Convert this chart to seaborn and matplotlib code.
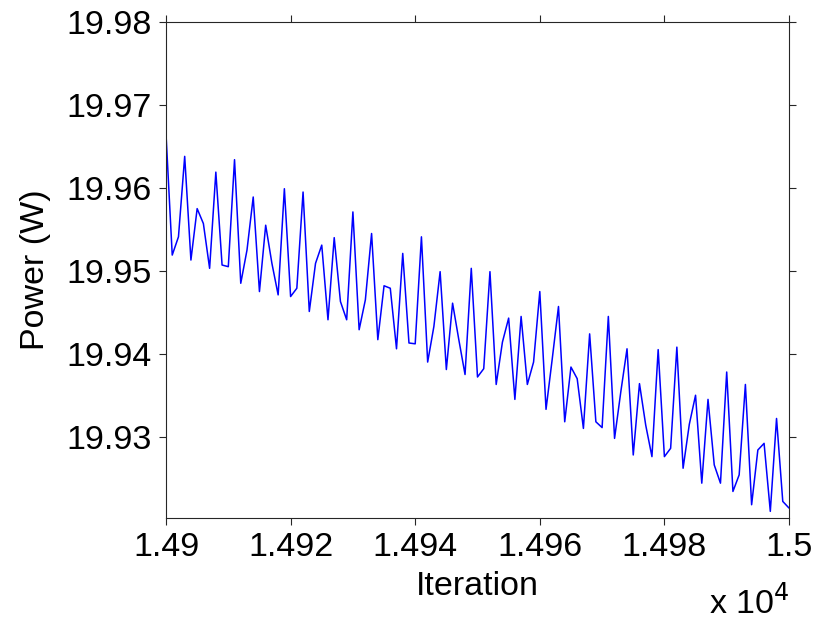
import numpy as np
import pandas as pd
import matplotlib
matplotlib.use('Agg')
import matplotlib.pyplot as plt
import seaborn as sns
from matplotlib.ticker import FuncFormatter, MultipleLocator

# power readings, one per iteration from 14900 to 15000
iterations = np.arange(14900, 15001)
power = [
    19.9665, 19.9519, 19.9541, 19.9638, 19.9513, 19.9575, 19.9557, 19.9503, 19.9619, 19.9507,
    19.9505, 19.9634, 19.9485, 19.9525, 19.9589, 19.9475, 19.9555, 19.9509, 19.9471, 19.9599,
    19.9469, 19.9479, 19.9595, 19.9451, 19.9509, 19.9531, 19.9441, 19.9540, 19.9463, 19.9441,
    19.9571, 19.9429, 19.9465, 19.9545, 19.9417, 19.9482, 19.9479, 19.9406, 19.9521, 19.9413,
    19.9412, 19.9541, 19.9390, 19.9433, 19.9499, 19.9381, 19.9461, 19.9417, 19.9375, 19.9503,
    19.9372, 19.9382, 19.9499, 19.9363, 19.9414, 19.9443, 19.9345, 19.9445, 19.9363, 19.9390,
    19.9475, 19.9333, 19.9394, 19.9457, 19.9318, 19.9384, 19.9370, 19.9310, 19.9424, 19.9318,
    19.9311, 19.9445, 19.9298, 19.9354, 19.9406, 19.9278, 19.9364, 19.9314, 19.9276, 19.9405,
    19.9276, 19.9286, 19.9408, 19.9262, 19.9315, 19.9350, 19.9244, 19.9345, 19.9266, 19.9244,
    19.9378, 19.9234, 19.9254, 19.9363, 19.9218, 19.9284, 19.9292, 19.9210, 19.9322, 19.9222,
    19.9214,
]
df = pd.DataFrame({'Iteration': iterations, 'Power': power})

sns.set_style('white')
plt.rcParams['font.family'] = ['Liberation Sans', 'DejaVu Sans']
fs = 24.5

fig = plt.figure(figsize=(8.25, 6.2), dpi=100)
ax = fig.add_axes([166 / 825, 1 - 518 / 620, (789 - 166) / 825, (518 - 22) / 620])

sns.lineplot(data=df, x='Iteration', y='Power', color='#0000ff', linewidth=1.1, ax=ax)

ax.set_xlim(14900, 15000)
ax.set_ylim(19.9202, 19.98)
ax.xaxis.set_major_locator(MultipleLocator(20))
ax.yaxis.set_major_locator(MultipleLocator(0.01))
ax.xaxis.set_major_formatter(FuncFormatter(lambda v, p: '%g' % round(v / 1e4, 4)))
ax.yaxis.set_major_formatter(FuncFormatter(lambda v, p: '%.2f' % v))

ax.tick_params(axis='both', direction='out', length=5, width=0.8, color='#262626',
               labelsize=fs, labelcolor='black', pad=5,
               top=True, right=True, bottom=True, left=True)
for s in ax.spines.values():
    s.set_color('#262626')
    s.set_linewidth(0.8)

ax.set_xlabel('Iteration', fontsize=fs, labelpad=6, color='black')
ax.set_ylabel('Power (W)', fontsize=fs, labelpad=11, color='black')
fig.text(789 / 825, 1 - 613 / 620, r'x 10$^{4}$', fontsize=fs, ha='right', va='baseline',
         color='black')

fig.savefig('out.png', dpi=100)
